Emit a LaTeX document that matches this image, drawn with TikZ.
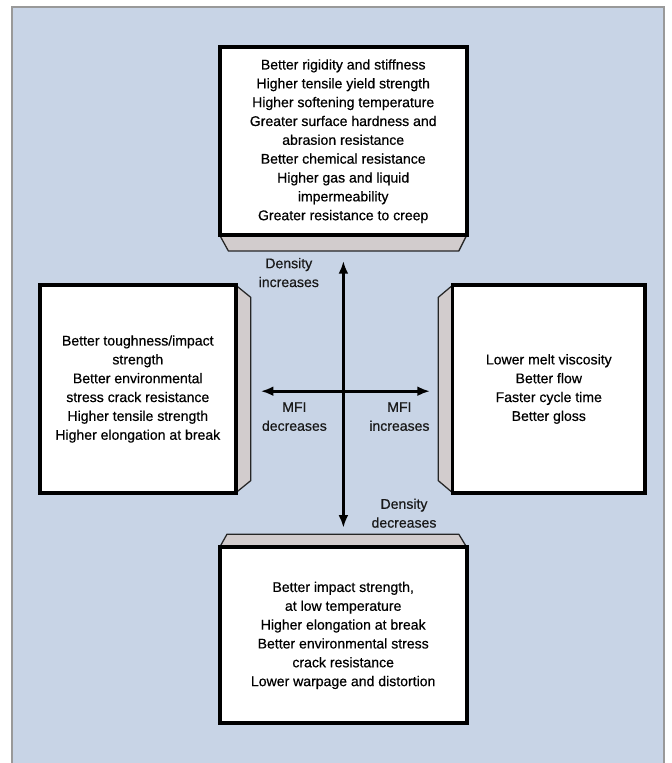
\documentclass[tikz,border=0pt]{standalone}
\usepackage{fontspec}
\usepackage{tikz, tkz-euclide, xcolor}
\usetikzlibrary{arrows.meta}
\setmainfont{Liberation Sans}[FakeBold=0.5]
\definecolor{paneblue}{RGB}{200,212,230}
\definecolor{sidegrey}{RGB}{210,204,205}
\tikzset{
    propbox/.style={draw=black, line width=2.8pt, fill=white, align=center, inner sep=0pt},
    sideface/.style={fill=sidegrey, draw=black!85, line width=0.9pt},
    trend/.style={line width=2pt, {Latex[length=9pt,width=7pt]}-{Latex[length=9pt,width=7pt]}},
    trendlabel/.style={align=center, text=black!90}
}

\begin{document}
\begin{tikzpicture}[font=\fontsize{10}{13.4}\selectfont]
    \useasboundingbox (0,0) rectangle (16.8,19.075);
    \fill[white] (0,0) rectangle (16.8,19.075);
    \filldraw[fill=paneblue, draw=gray!80, line width=0.8pt] (0.3,0) -- (0.3,18.9) -- (16.6,18.9) -- (16.6,0);
    \tkzDefPoints{5.49/13.20/A, 11.67/13.20/B, 11.47/12.80/C, 5.71/12.80/D}
    \tkzDefPoints{5.90/11.94/E, 6.27/11.64/F, 6.27/7.06/G, 5.90/6.76/H}
    \tkzDefPoints{11.31/11.94/I, 10.955/11.64/J, 10.955/7.06/K, 11.31/6.76/L}
    \tkzDefPoints{5.49/5.39/M, 5.675/5.72/N, 11.47/5.72/O, 11.67/5.39/P}
    \tkzDrawPolygon[sideface](A,B,C,D)
    \tkzDrawPolygon[sideface](E,F,G,H)
    \tkzDrawPolygon[sideface](I,J,K,L)
    \tkzDrawPolygon[sideface](M,N,O,P)
    \node[propbox, minimum width=6.18cm, minimum height=4.69cm] (stiff) at (8.58,15.545)
        {Better rigidity and stiffness\\Higher tensile yield strength\\Higher softening temperature\\Greater surface hardness and\\abrasion resistance\\Better chemical resistance\\Higher gas and liquid\\impermeability\\Greater resistance to creep};
    \node[propbox, minimum width=4.91cm, minimum height=5.18cm] (tough) at (3.445,9.35)
        {Better toughness/impact\\strength\\Better environmental\\stress crack resistance\\Higher tensile strength\\Higher elongation at break};
    \node[propbox, minimum width=4.815cm, minimum height=5.18cm] (flow) at (13.72,9.35)
        {Lower melt viscosity\\Better flow\\Faster cycle time\\Better gloss};
    \node[propbox, minimum width=6.18cm, minimum height=4.40cm] (impact) at (8.58,3.19)
        {Better impact strength,\\at low temperature\\Higher elongation at break\\Better environmental stress\\crack resistance\\Lower warpage and distortion};
    \tkzDefPoints{8.585/12.55/Up, 8.585/5.88/Dn, 6.52/9.295/Wt, 10.75/9.295/Et}
    \draw[trend] (Dn) -- (Up);
    \draw[trend] (Wt) -- (Et);
    \node[trendlabel] (densup) at (7.22,12.26) {Density\\increases};
    \node[trendlabel] (mfidown) at (7.36,8.66) {MFI\\decreases};
    \node[trendlabel] (mfiup) at (9.985,8.66) {MFI\\increases};
    \node[trendlabel] (densdown) at (10.10,6.245) {Density\\decreases};
    \end{tikzpicture}
\end{document}
